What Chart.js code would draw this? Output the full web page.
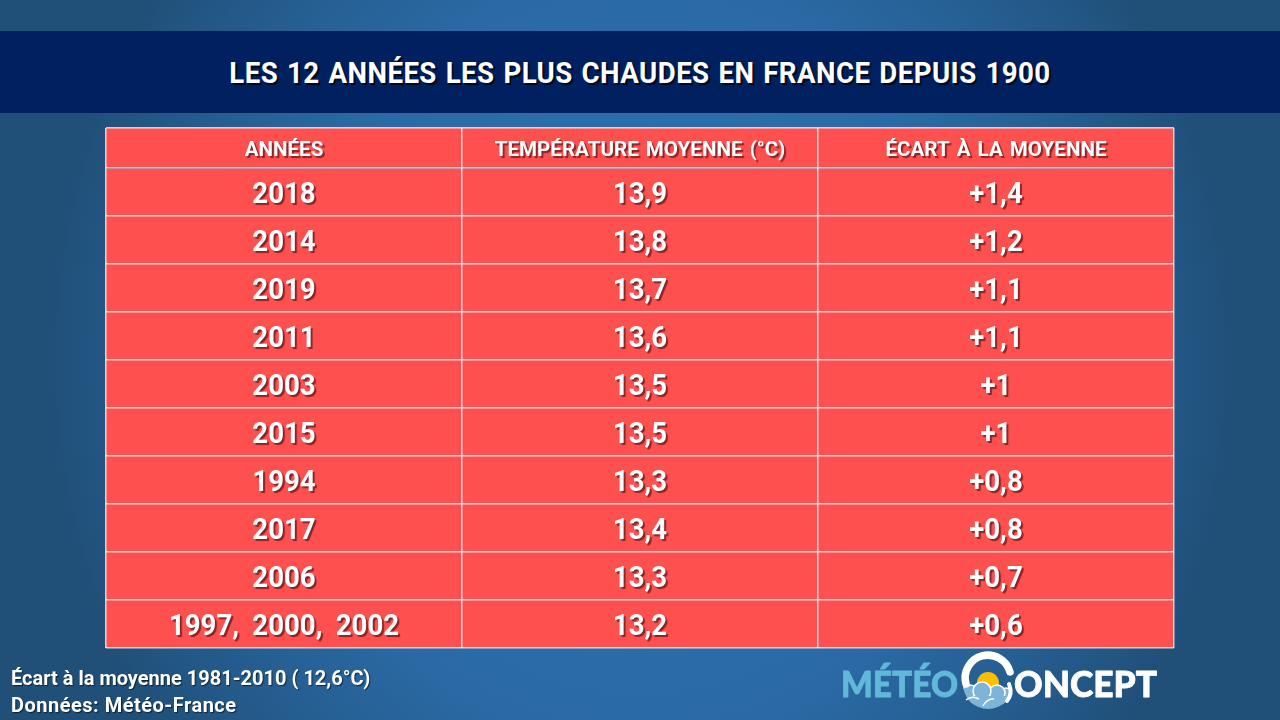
<!DOCTYPE html>
<html lang="fr">
<head>
<meta charset="utf-8">
<title>Les 12 années les plus chaudes</title>
<script src="https://cdn.jsdelivr.net/npm/chart.js@4"></script>
<style>
html, body { margin: 0; padding: 0; }
body {
    position: relative; width: 1280px; height: 720px; overflow: hidden;
    background: radial-gradient(ellipse 600px 640px at 640px 360px, #2e75b6 0%, #2a69a4 60%, #245a8a 85%, #204f78 100%);
    font-family: Roboto, sans-serif; font-weight: 700; color: #fff;
}
#band { position: absolute; left: 0; top: 31px; width: 1280px; height: 82px; background: #002060; }
#title {
    position: absolute; left: 0; top: 31px; width: 1280px; line-height: 84px; text-align: center;
    font-size: 30px; white-space: nowrap; transform: scaleX(.92);
    letter-spacing: .5px; word-spacing: 1.7px;
    text-shadow: 2px 2px 1px rgba(0,0,0,.7);
}
.note {
    position: absolute; left: 11px; font-size: 20px; white-space: nowrap;
    transform-origin: left center;
    text-shadow: 1px 1px 1px rgba(0,0,0,.6);
}
#logo { position: absolute; left: 0; top: 0; }
#myChart { position: absolute; left: 0; top: 0; }
</style>
</head>
<body>
<div id="band"></div>
<div id="title">LES 12 ANNÉES LES PLUS CHAUDES EN FRANCE DEPUIS 1900</div>
<canvas id="myChart" width="1280" height="720"></canvas>
<div class="note" style="top:666px">Écart à la moyenne 1981-2010 ( 12,6°C)</div>
<div class="note" style="top:693px; letter-spacing:.5px">Données: Météo-France</div>
<svg id="logo" width="1280" height="720" viewBox="0 0 1280 720">
    <defs>
        <clipPath id="disc"><circle cx="988" cy="684" r="25"/></clipPath>
    </defs>
    <g font-family="Lato, sans-serif" font-weight="900" font-size="36" stroke-width=".8" stroke-linejoin="round">
        <text x="841" y="697" fill="#62b8d9" stroke="#62b8d9" textLength="117" lengthAdjust="spacingAndGlyphs">MÉTÉO</text>
        <text x="1014" y="697" fill="#fff" stroke="#fff" textLength="143" lengthAdjust="spacingAndGlyphs">ONCEPT</text>
    </g>
    <circle cx="988" cy="683" r="11" fill="#fdbe00"/>
    <g clip-path="url(#disc)" fill="#7db4d8" stroke="#fff" stroke-width="1.5">
        <circle cx="970" cy="694" r="9"/>
        <circle cx="1006" cy="696" r="8"/>
        <circle cx="997" cy="693" r="8"/>
        <circle cx="982" cy="691" r="9"/>
        <rect x="960" y="696" width="56" height="16" stroke="none"/>
    </g>
    <path d="M966 700 Q972 695 979 699 M983 706 Q987 698 994 699" fill="none" stroke="#fff" stroke-width="1.5"/>
    <path d="M1010 672 A22.5 22.5 0 1 0 966 684" fill="none" stroke="#fff" stroke-width="7.5" stroke-linecap="round"/>
    <path d="M1009 684 Q1013 694 1007 701" fill="none" stroke="#fff" stroke-width="4" stroke-linecap="round"/>
</svg>

<script>
// table content
const headers = ["ANNÉES", "TEMPÉRATURE MOYENNE (°C)", "ÉCART À LA MOYENNE"];
const years = ["2018", "2014", "2019", "2011", "2003", "2015", "1994", "2017", "2006", "1997, 2000, 2002"];
const temperatures = ["13,9", "13,8", "13,7", "13,6", "13,5", "13,5", "13,3", "13,4", "13,3", "13,2"];
const anomalies = ["+1,4", "+1,2", "+1,1", "+1,1", "+1", "+1", "+0,8", "+0,8", "+0,7", "+0,6"];

const cellRed = "#ff5050";
const lineColor = "rgba(255, 255, 255, 0.75)";
const headerTop = -5 / 6; // the header row is a bit shorter than the others

// one dataset per row, each column is one floating bar
const rowDatasets = [{
    label: "header",
    data: headers.map(() => [headerTop, 0]),
    texts: headers,
    font: "700 21px Roboto",
    squeeze: 0.98,
    gap: "2px",
    shift: 3
}];
years.forEach((year, i) => {
    rowDatasets.push({
        label: year,
        data: headers.map(() => [i, i + 1]),
        texts: [year, temperatures[i], anomalies[i]],
        font: "700 30px Roboto",
        squeeze: 0.92,
        gap: "7px",
        shift: 3
    });
});
rowDatasets.forEach(d => {
    d.backgroundColor = cellRed;
    d.borderWidth = 0;
    d.barPercentage = 1;
    d.categoryPercentage = 1;
    d.grouped = false;
});

const cellLabels = {
    id: "cellLabels",
    afterDraw(chart) {
        const ctx = chart.ctx;
        chart.data.datasets.forEach((ds, i) => {
            chart.getDatasetMeta(i).data.forEach((bar, j) => {
                const midY = (bar.y + bar.base) / 2;
                ctx.save();
                ctx.translate(bar.x, midY);
                ctx.scale(ds.squeeze, 1);
                ctx.font = ds.font;
                ctx.wordSpacing = ds.gap;
                ctx.fillStyle = "#fff";
                ctx.textAlign = "center";
                ctx.textBaseline = "middle";
                ctx.shadowColor = "rgba(110, 25, 25, 0.8)";
                ctx.shadowOffsetX = 2;
                ctx.shadowOffsetY = 2;
                ctx.shadowBlur = 1;
                ctx.fillText(ds.texts[j], 0, ds.shift);
                ctx.restore();
            });
        });
    }
};

new Chart(document.getElementById("myChart").getContext("2d"), {
    type: "bar",
    data: { labels: headers, datasets: rowDatasets },
    plugins: [cellLabels],
    options: {
        responsive: false,
        animation: false,
        layout: { padding: { left: 106, right: 106, top: 128, bottom: 72 } },
        plugins: { legend: { display: false }, tooltip: { enabled: false } },
        scales: {
            x: {
                grid: { z: 1, color: lineColor, lineWidth: 1.5, drawTicks: false },
                border: { display: false },
                ticks: { display: false }
            },
            y: {
                reverse: true,
                min: headerTop,
                max: years.length,
                grid: { z: 1, color: lineColor, lineWidth: 1.5, drawTicks: false },
                border: { display: false },
                ticks: { display: false, stepSize: 1 }
            }
        }
    }
});
</script>
</body>
</html>
